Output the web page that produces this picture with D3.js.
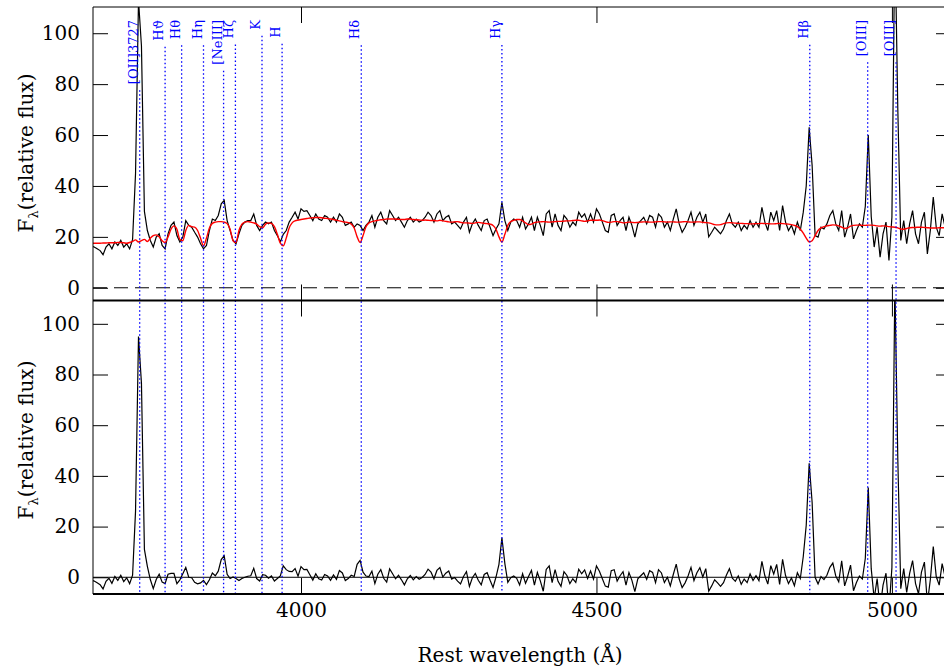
<!DOCTYPE html>
<meta charset="utf-8">
<title>Rest-frame spectrum</title>
<style>
body {
  margin: 0;
  background-color: white;
}
svg text {
  font-family: 'DejaVu Serif', serif;
}
</style>
<svg width="944" height="667"></svg>
<script src="https://d3js.org/d3.v7.min.js"></script>
<script>
// sampling of the spectrum (rest wavelength, Angstrom)
var wave0 = 3645, dWave = 5;

// observed flux (top panel, black)
var flux = [
  16.5, 16, 15.3, 14.6, 13, 16, 17.3, 15.3, 18, 16.6,
  18.6, 16, 17.3, 15.3, 19, 45, 113, 95, 30, 22.5,
  18.6, 16, 19.9, 21.2, 16.6, 15.3, 21.2, 24.5, 25.8, 20.5,
  18, 19.9, 26.4, 24.5, 23.8, 21.8, 19.9, 17.3, 15.3, 16.6,
  22.5, 27, 26.4, 28.4, 33, 34.3, 26.4, 22.5, 18.6, 17.3,
  21.2, 24.5, 25.8, 26.4, 26.4, 29, 24.5, 22.5, 24.5, 25.8,
  25.1, 25.8, 22.5, 20.5, 18, 21, 22.5, 25.8, 27.7, 29.7,
  27, 31, 30, 30.3, 28.4, 26.4, 29, 27, 26.4, 28.4,
  27.7, 25.8, 27.7, 25.8, 29, 27.7, 24.5, 25.1, 25.8, 23.8,
  25.1, 24.5, 22.5, 24.5, 25.8, 28.4, 23.8, 27.7, 29.7, 26.4,
  25.1, 30.3, 28.4, 26.4, 27.7, 25.8, 23.8, 26.4, 27.7, 25.8,
  27, 25.8, 26.4, 27.7, 29.7, 28.4, 25.8, 29, 30.3, 26.4,
  27.7, 28.4, 25.1, 25.8, 24.5, 23.1, 25.8, 27.7, 21.8, 25.1,
  27, 24.5, 22.5, 26.4, 27, 23.8, 20.5, 23.1, 25.1, 33.6,
  26.4, 22.5, 25.8, 27, 26.4, 23.8, 27.7, 23.1, 25.1, 27.7,
  22.5, 27.7, 24.5, 20.5, 29, 30.3, 23.8, 29, 24.5, 22.5,
  28.4, 27, 23.8, 25.8, 24.5, 29.7, 27.7, 29, 25.8, 29,
  25.8, 31, 29, 25.8, 22.5, 21.8, 28.4, 29, 24.5, 26.4,
  27.7, 22.5, 27.7, 24.5, 19.9, 25.1, 26.4, 27.7, 25.1, 28.4,
  27.7, 23.8, 29, 27.7, 23.8, 25.8, 22.5, 27, 31, 25.1,
  21.8, 23.8, 26.4, 29.7, 24.5, 27.7, 29.7, 25.8, 29, 20,
  21.8, 23.8, 22.5, 21.2, 23.1, 26.4, 29, 25.1, 23.8, 25.8,
  22.5, 24.5, 23.1, 26.4, 23.8, 25.8, 23.8, 31.6, 25.8, 22.5,
  29.7, 26.4, 30.3, 22.5, 32.3, 25.8, 22.5, 24.5, 21.2, 25.8,
  22.5, 29.7, 40, 63, 48, 20.5, 19.9, 23.8, 23.1, 25.1,
  28.4, 30.3, 25.1, 22.5, 30.3, 19.9, 23.8, 29, 19.2, 22.5,
  25.1, 23.8, 32, 60, 28, 16, 23.8, 12, 21.2, 25.8,
  10.7, 27.7, 140, 70, 18.6, 26.4, 17.3, 25.1, 30.3, 21.2,
  17.3, 25.8, 29.7, 13.3, 22.5, 35.6, 23.8, 20.5, 29, 23.8,
  25.8, 22.5
];

// stellar population model (top panel, red)
var model = [
  17.5, 17.5, 17.5, 17.5, 17.6, 17.6, 17.7, 17.7, 17.7, 17.8,
  17.8, 17.7, 17.5, 17.8, 18.2, 18.8, 18.0, 18.5, 19, 18.2,
  19.5, 20.5, 20.8, 20, 18.5, 17.8, 20, 23, 24.3, 23,
  19, 18.5, 22.5, 24.5, 24, 23.8, 22.5, 19.5, 16.5, 19.5,
  23.5, 25.3, 25.8, 26, 26, 25.8, 25.2, 23, 18.5, 17.8,
  22.5, 25, 25.8, 26, 25.8, 25.5, 25, 24, 23.5, 25,
  25.5, 25.3, 24, 21, 17.5, 16.5, 19.5, 23.5, 25.5, 26.3,
  26.6, 26.8, 27, 27.2, 27.4, 27.5, 27.6, 27.6, 27.5, 27.3,
  27.2, 27, 26.8, 26.6, 26.3, 26, 25.8, 25.6, 25, 23.5,
  20, 17.8, 20.5, 24, 25.5, 26, 26.3, 26.5, 26.7, 26.8,
  27, 27, 27, 27, 26.9, 26.8, 26.8, 27, 27, 26.8,
  26.7, 26.6, 26.5, 26.6, 26.5, 26.4, 26.4, 26.3, 26.5, 26.3,
  26.1, 25.9, 25.8, 25.9, 26, 25.7, 25.5, 25.5, 25.4, 25.3,
  25.5, 25.7, 25.5, 25.3, 25.2, 25, 24.5, 23, 20, 18,
  21, 24.5, 26, 26.5, 26.8, 26.8, 26.3, 25.5, 24.8, 25,
  25.6, 25.8, 25.9, 26, 25.9, 25.8, 25.9, 26, 26.1, 26.1,
  26.2, 26.3, 26.3, 26.4, 26.5, 26.5, 26.3, 26.1, 26.3, 26.5,
  26.5, 26.5, 26.6, 26.4, 26, 25.7, 25.8, 26, 26, 25.8,
  25.5, 25.6, 25.8, 25.7, 25.6, 25.7, 25.8, 25.9, 25.9, 25.8,
  25.8, 25.9, 26, 26, 25.9, 25.8, 25.9, 25.9, 25.8, 25.8,
  25.9, 26, 25.9, 25.8, 25.8, 25.9, 25.9, 25.7, 25.6, 25.5,
  25.2, 24.8, 24.7, 24.8, 25.2, 25.5, 25.6, 25.5, 25.4, 25.3,
  25.3, 25.2, 25.2, 25.1, 25.1, 25.2, 25.2, 25.3, 25.2, 25.2,
  25.1, 25.1, 25.2, 25.3, 25.2, 25.1, 25, 24.8, 24.5, 24,
  23, 21.5, 19.5, 18, 18.5, 20.5, 22.5, 23.5, 24, 24.3,
  24.5, 24.7, 24.6, 24.3, 23.8, 23.3, 23.5, 24.2, 24.5, 24.6,
  24.6, 24.5, 24.5, 24.6, 24.6, 24.5, 24.3, 24.2, 24.3, 24.2,
  24, 23.9, 23.8, 23.5, 23.1, 23, 23.3, 23.6, 23.7, 23.7,
  23.8, 23.8, 23.7, 23.6, 23.5, 23.5, 23.5, 23.6, 23.6, 23.6,
  23.6, 23.6
];

// identified lines
var lineWaves = [3727, 3770, 3798, 3835, 3869, 3889, 3934, 3968, 4102, 4340, 4861, 4959, 5007];
var lineNames = ["[OII]3727", "H\u03d1", "H\u03b8", "H\u03b7", "[NeIII]", "H\u03b6", "K", "H\u2002",
                 "H\u03b4", "H\u03b3", "H\u03b2", "[OIII]", "[OIII]"];

var xTicks = [4000, 4500, 5000];
var yTicks = [0, 20, 40, 60, 80, 100];

var wave = flux.map(function(d, i) { return wave0 + i * dWave; });
var resid = flux.map(function(d, i) { return d - model[i]; });

var left = 93, right = 951, plotTop = 7, mid = 300.5, bottom = 594;

var svg = d3.select("svg");

var x = d3.scaleLinear().domain([3648, 5100]).range([left, right]);
var yTop = d3.scaleLinear().domain([-5, 110.3]).range([mid, plotTop]);
var yBot = d3.scaleLinear().domain([-6.6, 109.2]).range([bottom, mid]);

var defs = svg.append("defs");
defs.append("clipPath").attr("id", "clipTop")
  .append("rect").attr("x", left).attr("y", plotTop).attr("width", right - left).attr("height", mid - plotTop);
defs.append("clipPath").attr("id", "clipBot")
  .append("rect").attr("x", left).attr("y", mid).attr("width", right - left).attr("height", bottom - mid);

var minorX = d3.range(3700, 5101, 100).filter(function(v) { return v % 500; });
var fmt = d3.format("d");

function panel(y, label) {
  var minorY = d3.range(-5, 111, 5).filter(function(v) { return v % 20; });

  // inward ticks on all four sides
  var gl = svg.append("g").attr("transform", "translate(" + left + ",0)");
  gl.call(d3.axisLeft(y).tickValues(minorY).tickSize(-7).tickFormat(""));
  gl.call(d3.axisLeft(y).tickValues(yTicks).tickSize(-15).tickPadding(13).tickFormat(fmt));
  var gr = svg.append("g").attr("transform", "translate(" + right + ",0)");
  gr.call(d3.axisRight(y).tickValues(minorY).tickSize(-7).tickFormat(""));
  gr.call(d3.axisRight(y).tickValues(yTicks).tickSize(-15).tickFormat(""));

  var y0 = y.range()[1], y1 = y.range()[0];
  var gt = svg.append("g").attr("transform", "translate(0," + y0 + ")");
  gt.call(d3.axisTop(x).tickValues(minorX).tickSize(-7).tickFormat(""));
  gt.call(d3.axisTop(x).tickValues(xTicks).tickSize(-16).tickFormat(""));
  var gb = svg.append("g").attr("transform", "translate(0," + y1 + ")");
  gb.call(d3.axisBottom(x).tickValues(minorX).tickSize(-7).tickFormat(""));
  gb.call(d3.axisBottom(x).tickValues(xTicks).tickSize(-16).tickPadding(9)
    .tickFormat(label ? fmt : ""));

  svg.selectAll(".domain").remove();
  svg.selectAll(".tick line").attr("stroke", "#000").attr("stroke-width", 1);
  svg.selectAll(".tick text").attr("font-size", 20).attr("font-family", "'DejaVu Serif', serif").attr("fill", "#000");
}

panel(yTop, false);
panel(yBot, true);

// zero levels
svg.append("line")
  .attr("x1", left).attr("x2", right)
  .attr("y1", yTop(0)).attr("y2", yTop(0))
  .attr("stroke", "#000").attr("stroke-dasharray", "14,7");
svg.append("line")
  .attr("x1", left).attr("x2", right)
  .attr("y1", yBot(0)).attr("y2", yBot(0))
  .attr("stroke", "#000");

var pts = wave.map(function(w, i) { return i; });

var fluxLine = d3.line().x(function(i) { return x(wave[i]); }).y(function(i) { return yTop(flux[i]); });
var modelLine = d3.line().curve(d3.curveMonotoneX)
  .x(function(i) { return x(wave[i]); }).y(function(i) { return yTop(model[i]); });
var residLine = d3.line().x(function(i) { return x(wave[i]); }).y(function(i) { return yBot(resid[i]); });

svg.append("path").datum(pts).attr("clip-path", "url(#clipTop)")
  .attr("d", fluxLine).attr("fill", "none").attr("stroke", "#000").attr("stroke-width", 1.2);
svg.append("path").datum(pts).attr("clip-path", "url(#clipTop)")
  .attr("d", modelLine).attr("fill", "none").attr("stroke", "#ff0000").attr("stroke-width", 1.4);
svg.append("path").datum(pts).attr("clip-path", "url(#clipBot)")
  .attr("d", residLine).attr("fill", "none").attr("stroke", "#000").attr("stroke-width", 1.2);

// line identifications
var lab = svg.append("g").selectAll("g")
  .data(lineWaves)
  .enter().append("g");

lab.append("text")
  .attr("transform", function(w) { return "translate(" + (x(w) - 2) + ",20) rotate(-90)"; })
  .attr("text-anchor", "end")
  .attr("font-size", 13)
  .attr("fill", "#0000ff")
  .text(function(w, i) { return lineNames[i]; });

lab.append("line")
  .attr("x1", function(w) { return x(w); })
  .attr("x2", function(w) { return x(w); })
  .attr("y1", function() {
    return 20 + this.parentNode.querySelector("text").getComputedTextLength() + 6;
  })
  .attr("y2", bottom)
  .attr("stroke", "#0000ff")
  .attr("stroke-width", 1.3)
  .attr("stroke-dasharray", "1.5,2.5");

// frame
svg.append("path")
  .attr("d", "M" + right + "," + plotTop + "H" + left + "V" + bottom)
  .attr("fill", "none").attr("stroke", "#000").attr("stroke-width", 1);
svg.append("line").attr("x1", left).attr("x2", right).attr("y1", mid).attr("y2", mid)
  .attr("stroke", "#000").attr("stroke-width", 2);
svg.append("line").attr("x1", left).attr("x2", right).attr("y1", bottom).attr("y2", bottom)
  .attr("stroke", "#000").attr("stroke-width", 2);

// axis titles
function yTitle(cy) {
  var t = svg.append("text")
    .attr("transform", "translate(33," + cy + ") rotate(-90)")
    .attr("text-anchor", "middle")
    .attr("font-size", 20);
  t.append("tspan").text("F");
  t.append("tspan").attr("font-size", 13).attr("dy", 5).text("\u03bb");
  t.append("tspan").attr("dy", -5).text("(relative flux)");
}
yTitle(153);
yTitle(440);

svg.append("text")
  .attr("x", 520).attr("y", 662)
  .attr("text-anchor", "middle")
  .attr("font-size", 20)
  .text("Rest wavelength (\u00c5)");
</script>
